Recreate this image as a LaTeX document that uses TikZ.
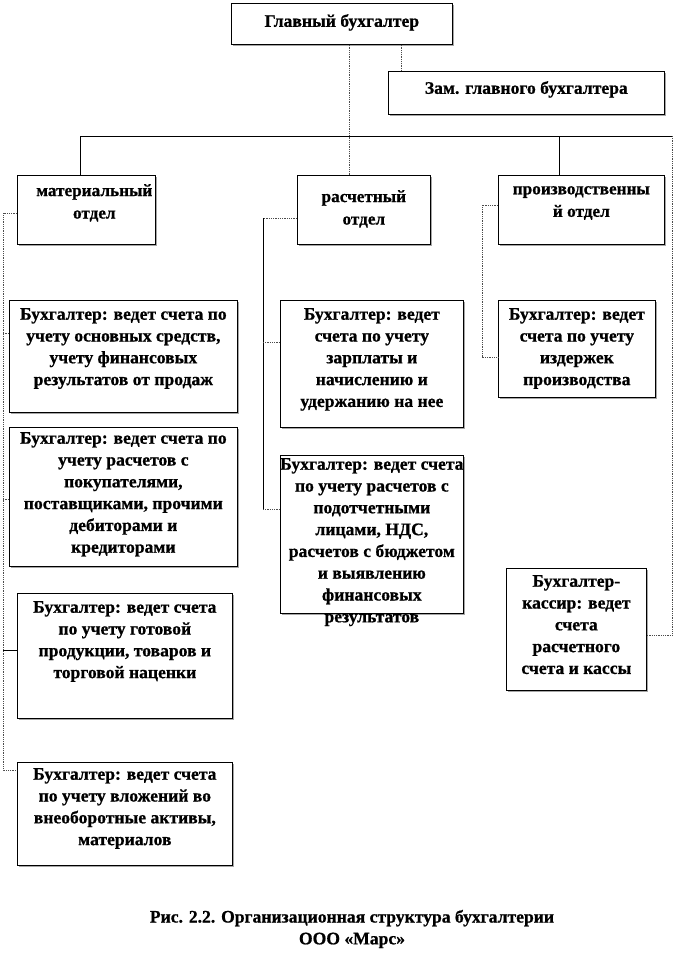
\documentclass[tikz,border=0pt]{standalone}
\usepackage{fontspec}
\setmainfont{Liberation Serif}[BoldFeatures={FakeBold=0.8}]
\usetikzlibrary{shadows}
\begin{document}
\begin{tikzpicture}[x=1pt,y=-1pt,
  box/.style={draw=black, line width=0.7pt, fill=white, anchor=north west, inner sep=0pt,
    drop shadow={shadow xshift=1.6pt, shadow yshift=-1.6pt, fill=gray!70, opacity=1}},
  txt/.style={font=\bfseries\fontsize{17.6}{21.8}\selectfont, align=center, inner sep=0pt, anchor=north},
  dtxt/.style={font=\bfseries\fontsize{17.2}{22.5}\selectfont, align=center, inner sep=0pt, anchor=north},
  sline/.style={draw=black, line width=0.7pt},
  dline/.style={draw=black!70, line width=0.8pt, densely dotted}]
\useasboundingbox (0,0) rectangle (674,953);

% boxes
\node[box, minimum width=221pt, minimum height=41pt] (G) at (231,3) {};
\node[txt] (Gt) at ([yshift=-11pt]G.north) {Главный бухгалтер};
\node[box, minimum width=276pt, minimum height=43pt] (Z) at (388,71) {};
\node[txt] (Zt) at ([yshift=-10pt]Z.north) {Зам. главного бухгалтера};

\node[box, minimum width=138pt, minimum height=69pt] (Mat) at (17,175) {};
\node[dtxt] (Matt) at ([yshift=-9pt,xshift=8pt]Mat.north) {материальный\\отдел};
\node[box, minimum width=133pt, minimum height=69pt] (Ras) at (297,175) {};
\node[dtxt] (Rast) at ([yshift=-15pt]Ras.north) {расчетный\\отдел};
\node[box, minimum width=166pt, minimum height=69pt] (Pro) at (498,175) {};
\node[dtxt] (Prot) at ([yshift=-11pt]Pro.north) {производственны\\й отдел};

\node[box, minimum width=228pt, minimum height=112pt] (L1) at (9,300) {};
\node[txt] (L1t) at ([yshift=-8pt]L1.north) {Бухгалтер: ведет счета по\\учету основных средств,\\учету финансовых\\результатов от продаж};
\node[box, minimum width=228pt, minimum height=139pt] (L2) at (9,427) {};
\node[txt] (L2t) at ([yshift=-5pt]L2.north) {Бухгалтер: ведет счета по\\учету расчетов с\\покупателями,\\поставщиками, прочими\\дебиторами и\\кредиторами};
\node[box, minimum width=215pt, minimum height=125pt] (L3) at (17,593) {};
\node[txt] (L3t) at ([yshift=-8pt]L3.north) {Бухгалтер: ведет счета\\по учету готовой\\продукции, товаров и\\торговой наценки};
\node[box, minimum width=215pt, minimum height=103pt] (L4) at (17,762) {};
\node[txt] (L4t) at ([yshift=-6pt]L4.north) {Бухгалтер: ведет счета\\по учету вложений во\\внеоборотные активы,\\материалов};

\node[box, minimum width=183pt, minimum height=127pt] (M1) at (280,300) {};
\node[txt] (M1t) at ([yshift=-8pt]M1.north) {Бухгалтер: ведет\\счета по учету\\зарплаты и\\начислению и\\удержанию на нее};
\node[box, minimum width=183pt, minimum height=158pt] (M2) at (280,455) {};
\node[txt] (M2t) at ([yshift=-3pt]M2.north) {Бухгалтер: ведет счета\\по учету расчетов с\\подотчетными\\лицами, НДС,\\расчетов с бюджетом\\и выявлению\\финансовых\\результатов};

\node[box, minimum width=157pt, minimum height=97pt] (R1) at (498,300) {};
\node[txt] (R1t) at ([yshift=-8pt]R1.north) {Бухгалтер: ведет\\счета по учету\\издержек\\производства};
\node[box, minimum width=140pt, minimum height=122pt] (K) at (506,568) {};
\node[txt] (Kt) at ([yshift=-7pt]K.north) {Бухгалтер-\\кассир: ведет\\счета\\расчетного\\счета и кассы};

% caption
\node[txt, anchor=center] (cap) at (352,929) {Рис. 2.2. Организационная структура бухгалтерии\\ООО «Марс»};

% connectors from top
\coordinate (busR) at (672,136);
\draw[dline] ([xshift=7.5pt]G.south) -- ([xshift=7.5pt]G.south |- Ras.north);
\draw[dline] ([xshift=59.5pt]G.south) -- ([xshift=59.5pt]G.south |- Z.north);
\draw[sline] ([xshift=-6pt]Mat.north) |- (busR);
\draw[sline] ([xshift=-22pt]Pro.north) -- ([xshift=-22pt]Pro.north |- busR);
\draw[dline] (busR) |- ([yshift=-6pt]K.east);

% left spine
\coordinate (ls) at (3,0);
\draw[dline] ([yshift=-38pt]Mat.north west) -- ([yshift=-38pt]Mat.north west -| ls) -- ([yshift=-8pt]L4.north west -| ls) -- ([yshift=-8pt]L4.north west);
\draw[dline] ([yshift=-33pt]L1.north west) -- ([yshift=-33pt]L1.north west -| ls);
\draw[dline] ([yshift=-72pt]L2.north west) -- ([yshift=-72pt]L2.north west -| ls);
\draw[sline] ([yshift=-57pt]L3.north west) -- ([yshift=-57pt]L3.north west -| ls);

% middle spine
\coordinate (ms) at (263,0);
\draw[sline] ([yshift=-43pt]Ras.north west -| ms) -- ([yshift=-54pt]M2.north west -| ms);
\draw[dline] ([yshift=-43pt]Ras.north west) -- ([yshift=-43pt]Ras.north west -| ms);
\draw[dline] ([yshift=-42pt]M1.north west) -- ([yshift=-42pt]M1.north west -| ms);
\draw[dline] ([yshift=-54pt]M2.north west) -- ([yshift=-54pt]M2.north west -| ms);

% right inner spine
\coordinate (rs) at (482,0);
\draw[dline] ([yshift=-30pt]Pro.north west) -- ([yshift=-30pt]Pro.north west -| rs) -- ([yshift=-57pt]R1.north west -| rs) -- ([yshift=-57pt]R1.north west);
\end{tikzpicture}
\end{document}
